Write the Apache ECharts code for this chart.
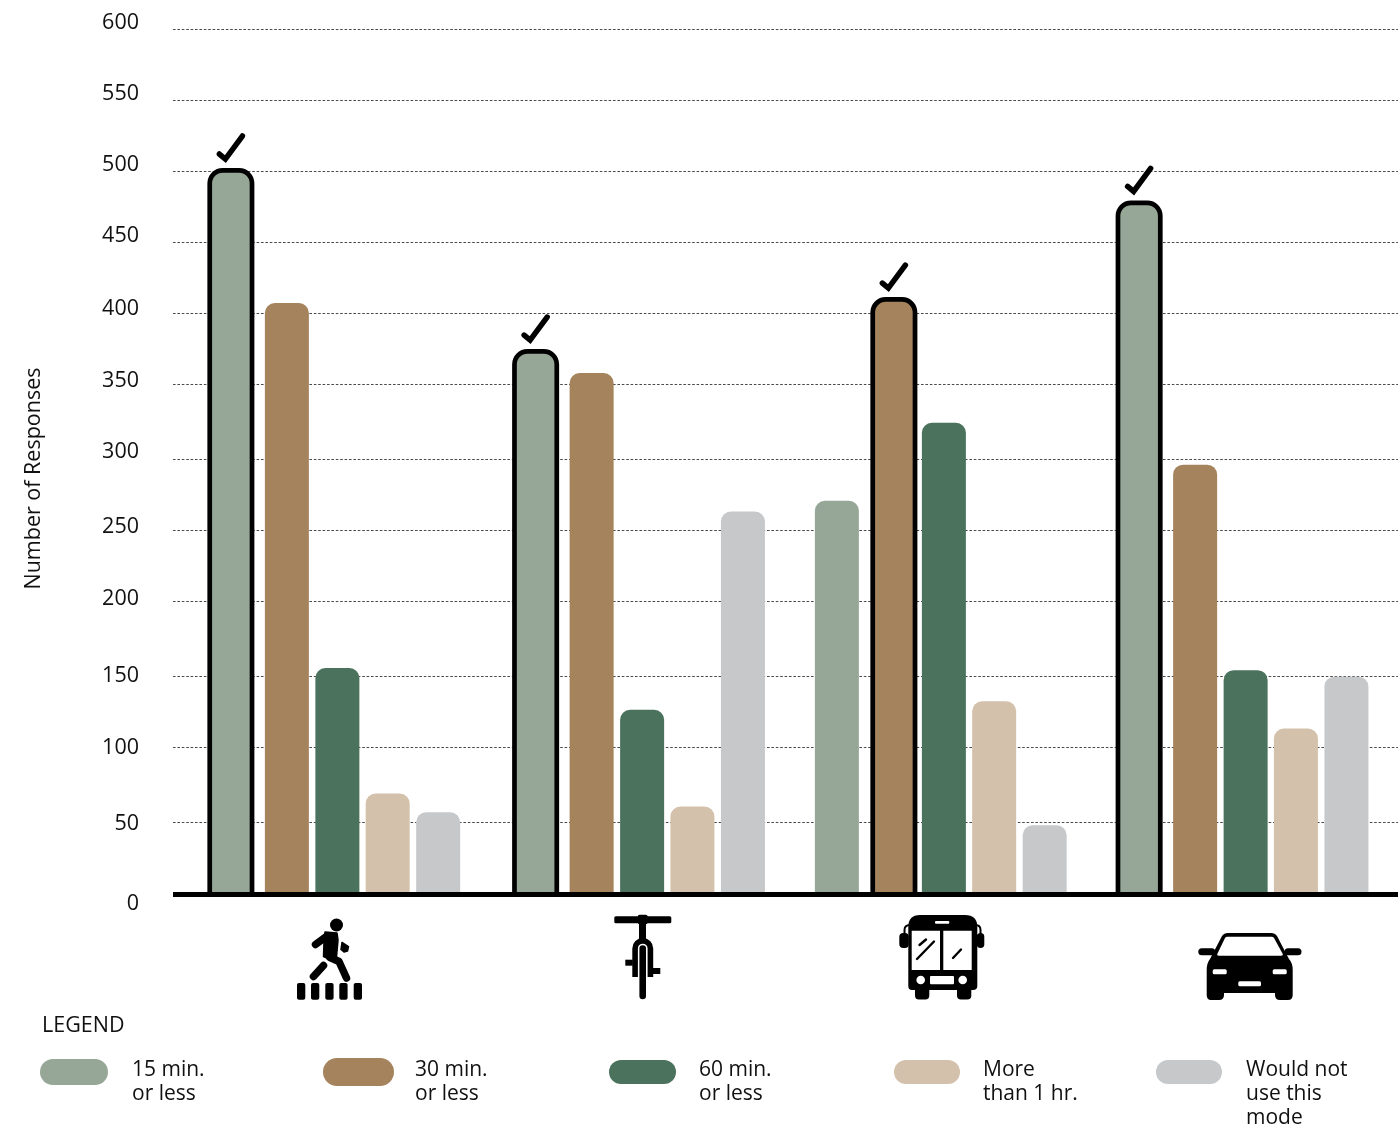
<!DOCTYPE html>
<html>
<head>
<meta charset="utf-8">
<title>Travel time by mode</title>
<style>
  html, body { margin: 0; padding: 0; background: #fff; }
  #chart { width: 1398px; height: 1128px; }
</style>
<script src="https://cdn.jsdelivr.net/npm/echarts@6/dist/echarts.min.js"></script>
</head>
<body>
<div id="chart"></div>
<script>
// Travel modes, in the order of the icons under the axis
const modes = ['Walking', 'Biking', 'Transit', 'Driving'];

// Responses per travel-time answer, one value per mode
const fifteenMin = [502, 376.5, 273, 479.5];
const thirtyMin = [410, 361.5, 412.5, 298];
const sixtyMin = [157, 128, 327, 155.5];
const overAnHour = [70, 61, 134, 115];
const wouldNotUse = [57, 265.5, 48, 151];

// Index of the most common answer per mode; these bars get an outline and a check mark
const topAnswer = [0, 0, 1, 0];

// Printed scale: the rules and numbers were hand-placed, so each has its own level
const tickLabels = ['600', '550', '500', '450', '400', '350', '300', '250', '200', '150', '100', '50', '0'];
const ruleLevels = [600, 550.8, 501.6, 452.3, 403.1, 353.9, 301.9, 252.7, 203.5, 151.5, 102.3, 50.3];
const labelLevels = [600, 551.7, 503.3, 454.9, 405.2, 356.2, 307.8, 256.8, 207.7, 155.3, 106.2, 54.5, 0];

const legendNames = ['15 min.\nor less', '30 min.\nor less', '60 min.\nor less', 'More\nthan 1 hr.', 'Would not\nuse this\nmode'];
const seriesValues = [fifteenMin, thirtyMin, sixtyMin, overAnHour, wouldNotUse];
const colors = ['#96A797', '#A5835C', '#4A725C', '#D3C1AB', '#C6C8CA'];

const FONT = '"Open Sans", "Noto Sans", sans-serif';
const INK = '#000';

// Horizontal layout of a cluster, in pixels from the centre of its category band
const BAR_W = 44;
const OUTLINE_W = 4.7;
const OUTLINE_OUTER_W = 47;
const seriesOffset = [-126, -69.5, -19, 31.3, 81.8];
const bandNudge = [0, 2, 1, 0];

function renderBar(seriesIdx) {
  return function (params, api) {
    const cat = api.value(0);
    const top = api.coord([cat, api.value(1)]);
    const base = api.coord([cat, 0]);
    const x = top[0] + seriesOffset[seriesIdx] + bandNudge[cat];
    const color = colors[seriesIdx];
    if (topAnswer[cat] !== seriesIdx) {
      return {
        type: 'rect',
        shape: { x: x, y: top[1], width: BAR_W, height: base[1] - top[1], r: [10, 10, 0, 0] },
        style: { fill: color }
      };
    }
    // Outlined bar with its check mark, both hung from the bar's top-left corner
    const inset = OUTLINE_W / 2;
    const outerLeft = x - 1;
    const outerTop = top[1] - inset;
    return {
      type: 'group',
      children: [
        {
          type: 'rect',
          shape: { x: outerLeft + inset, y: top[1], width: OUTLINE_OUTER_W - OUTLINE_W, height: base[1] - top[1], r: [13, 13, 0, 0] },
          style: { fill: color, stroke: INK, lineWidth: OUTLINE_W }
        },
        {
          type: 'polyline',
          shape: { points: [[outerLeft + 12, outerTop - 14], [outerLeft + 18, outerTop - 9], [outerLeft + 35, outerTop - 32]] },
          style: { fill: null, stroke: INK, lineWidth: 5.5, lineCap: 'round', lineJoin: 'miter' }
        }
      ]
    };
  };
}

// Icon helpers
const solid = { fill: INK };
const knock = { fill: '#fff' };
const rounded = { fill: INK, stroke: INK, lineWidth: 1.5, lineJoin: 'round' };
let glyphCount = 0;
function glyph(pathData, style) {
  const type = 'modeGlyph' + (glyphCount++);
  echarts.graphic.registerShape(type, echarts.graphic.extendPath(pathData, {}));
  return { type: type, style: style || solid };
}
function poly(points, style) { return { type: 'polygon', shape: { points: points }, style: style || solid }; }
function box(x, y, width, height, r, style) { return { type: 'rect', shape: { x, y, width, height, r: r || 0 }, style: style || solid }; }
function disc(cx, cy, r, style) { return { type: 'circle', shape: { cx, cy, r }, style: style || solid }; }
function stroke(x1, y1, x2, y2, width) {
  return { type: 'line', shape: { x1, y1, x2, y2 }, style: { stroke: INK, lineWidth: width, lineCap: 'round' } };
}
function limb(points, width) {
  return { type: 'polyline', shape: { points: points }, style: { fill: null, stroke: INK, lineWidth: width, lineCap: 'round', lineJoin: 'round' } };
}

const walkerIcon = [
  disc(336.5, 925, 6.5),
  limb([[315.5, 944.5], [327, 936]], 7.5),
  poly([[325, 932], [337, 933], [338, 940], [336.5, 957], [329, 959], [323.5, 956.5], [324, 942]], rounded),
  limb([[330, 957.5], [339, 961.5], [346.5, 978]], 7.5),
  poly([[342, 942.5], [348.5, 946.7], [347.5, 951], [344, 952], [341, 949.5]], rounded),
  limb([[323.5, 965.5], [313.5, 976.5]], 7.5),
  box(297, 983, 8.3, 16.7, 2), box(311, 983, 8.3, 16.7, 2), box(325.3, 983, 8.3, 16.7, 2),
  box(339.3, 983, 8.3, 16.7, 2), box(353.7, 983, 8.3, 16.7, 2)
];

const bikeIcon = [
  box(614.3, 916.3, 57, 7, 1.5),
  box(637.7, 914.7, 10, 9.5, 2),
  box(639, 923, 7, 16),
  glyph('M635.1 977V948.5A7.65 7.65 0 0 1 650.4 948.5V977', { fill: null, stroke: INK, lineWidth: 5.6 }),
  stroke(642.7, 948.5, 642.7, 996, 6.6),
  box(625.3, 959.7, 7.5, 6),
  box(653, 968, 7.3, 6)
];

const busIcon = [
  glyph('M908.3 927Q908.3 915 920 915H965Q977.3 915 977.3 927V986Q977.3 990 973 990H912Q908.3 990 908.3 986Z'),
  box(899.3, 933, 9.5, 15, 4), box(976.8, 933, 7.5, 15, 4),
  glyph('M910 925Q904.5 925 904.5 930V936', { fill: null, stroke: INK, lineWidth: 2 }),
  glyph('M975.5 925Q980.5 925 980.5 930V936', { fill: null, stroke: INK, lineWidth: 2 }),
  box(915, 985, 14.3, 14.5, 4), box(957, 985, 14.3, 14.5, 4),
  box(911.7, 930.7, 28.3, 39.3, 0, knock),
  box(943.3, 930.7, 28.4, 39.3, 0, knock),
  box(935, 921, 14.3, 2.7, 1, knock),
  stroke(919.5, 945, 926, 939.5, 2.4), stroke(917, 959, 934, 941.5, 2.4), stroke(953, 958, 961, 949.5, 2.4),
  disc(920.7, 980, 4.3, knock), disc(962.7, 980, 4.3, knock),
  box(930, 976, 24, 8.3, 1, knock)
];

const carIcon = [
  glyph('M1210 959L1222 936Q1224 933 1228 933H1271Q1275 933 1277 936L1289 959Q1292.7 963 1292.7 970V995Q1292.7 1000 1288 1000H1280Q1275 1000 1275 995V993H1224V995Q1224 1000 1219 1000H1211Q1206.7 1000 1206.7 995V970Q1206.7 963 1210 959Z'),
  box(1198.3, 948.3, 17, 7, 3.5), box(1284.5, 948.3, 17, 7, 3.5),
  glyph('M1219 955.7Q1216.5 955.7 1217.5 953.5L1225 938Q1225.8 936.7 1227.5 936.7H1271.5Q1273.2 936.7 1274 938L1282.5 953.5Q1283.5 955.7 1281 955.7Z', knock),
  box(1212.7, 969.3, 14, 5, 1.5, knock), box(1272.7, 969.3, 14, 5, 1.5, knock),
  box(1238.3, 981.3, 22.7, 5, 1.5, knock)
];

// A pill at the top of a taller icon box: the legend centres its text on the box,
// so the spare height below the pill sets how far the text hangs under the key.
function pillIcon(w, h, boxH) {
  const r = h / 2;
  return 'path://M' + r + ' 0H' + (w - r) + 'A' + r + ' ' + r + ' 0 0 1 ' + (w - r) + ' ' + h +
    'H' + r + 'A' + r + ' ' + r + ' 0 0 1 ' + r + ' 0ZM0 ' + boxH + 'L0 ' + boxH;
}
const legendBoxes = [
  { left: 40, top: 1058, width: 68, height: 26, boxH: 46, gap: 24 },
  { left: 323, top: 1058, width: 71, height: 28, boxH: 48, gap: 21 },
  { left: 609, top: 1058, width: 67, height: 24, boxH: 44, gap: 23 },
  { left: 894, top: 1058, width: 66, height: 24, boxH: 44, gap: 23 },
  { left: 1156, top: 1058, width: 66, height: 24, boxH: 68, gap: 24 }
];

const option = {
  animation: false,
  backgroundColor: '#fff',
  color: colors,
  textStyle: { fontFamily: FONT },
  title: {
    text: 'LEGEND', left: 42, top: 1015, padding: 0,
    textStyle: { fontFamily: FONT, fontSize: 21.5, fontWeight: 'normal', color: '#111' }
  },
  grid: [
    { left: 173, right: 0, top: 29, height: 865.5 },
    { left: 183, width: 1211, top: 29, height: 865.5 },
    { left: 173, right: 0, top: 23, height: 881 }
  ],
  xAxis: [
    {
      gridIndex: 0, type: 'value', min: 0, max: 1, z: 5,
      axisLine: { show: true, lineStyle: { color: INK, width: 5, cap: 'butt' } },
      axisTick: { show: false }, axisLabel: { show: false }, splitLine: { show: false }
    },
    { gridIndex: 1, type: 'category', data: modes, show: false },
    { gridIndex: 2, type: 'value', min: 0, max: 1, show: false }
  ],
  yAxis: [
    {
      gridIndex: 0, type: 'value', min: 0, max: 600,
      axisLine: { show: false }, axisLabel: { show: false },
      axisTick: { show: false, customValues: ruleLevels },
      splitLine: { show: true, lineStyle: { color: '#4a4a4a', width: 1, type: [2.6, 1.8] } }
    },
    { gridIndex: 1, type: 'value', min: 0, max: 600, show: false },
    {
      gridIndex: 2, type: 'value', min: 0, max: 600,
      axisLine: { show: false }, axisTick: { show: false }, splitLine: { show: false },
      axisLabel: {
        show: true, margin: 34, fontSize: 21.5, color: '#111', fontFamily: FONT,
        customValues: labelLevels,
        formatter: function (v) { return tickLabels[labelLevels.indexOf(v)]; }
      },
      name: 'Number of Responses', nameLocation: 'middle', nameGap: 128, nameRotate: 90,
      nameTextStyle: { fontSize: 21.5, color: '#111', fontFamily: FONT, padding: [0, 30, 0, 0] }
    }
  ],
  legend: legendBoxes.map(function (b, i) {
    return {
      data: [{ name: legendNames[i], icon: pillIcon(b.width, b.height, b.boxH), itemStyle: { color: colors[i] } }],
      left: b.left, top: b.top, orient: 'vertical', padding: 0,
      itemWidth: b.width, itemHeight: b.boxH, symbolKeepAspect: false, selectedMode: false,
      textStyle: { fontFamily: FONT, fontSize: 21, color: '#111', lineHeight: 24, padding: [0, 0, 0, b.gap - 5] }
    };
  }),
  series: seriesValues.map(function (values, i) {
    return {
      type: 'custom',
      name: legendNames[i],
      xAxisIndex: 1, yAxisIndex: 1,
      itemStyle: { color: colors[i] },
      encode: { x: 0, y: 1 },
      data: values.map(function (v, c) { return [c, v]; }),
      renderItem: renderBar(i),
      z: 2
    };
  }),
  graphic: { elements: [].concat(walkerIcon, bikeIcon, busIcon, carIcon) }
};

echarts.init(document.getElementById('chart')).setOption(option);
</script>
</body>
</html>
